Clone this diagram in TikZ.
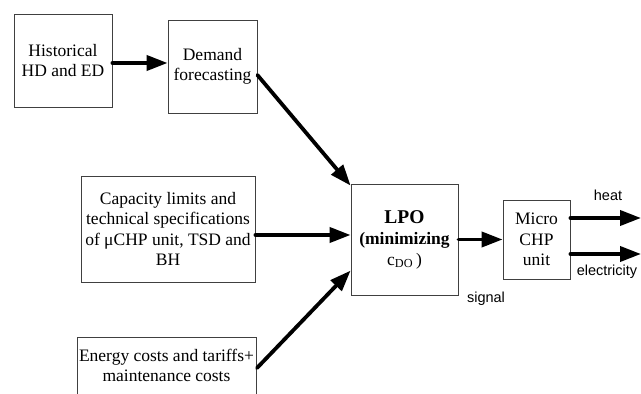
\documentclass[tikz,border=0pt]{standalone}
\usepackage{fontspec}
\setmainfont{Liberation Serif}
\newfontfamily\labelfont{Liberation Sans}
\usetikzlibrary{arrows.meta}
\begin{document}
\begin{tikzpicture}[x=1pt,y=1pt,
  boxst/.style={draw=black!75, line width=0.8pt, align=center, inner sep=0pt,
    font=\fontsize{17.5}{20.5}\selectfont},
  arr/.style={line width=3.8pt, line cap=round, -{Triangle[length=21pt,width=15pt]}},
  lbl/.style={font=\labelfont\fontsize{14.5}{17}\selectfont, inner sep=0pt}]
\useasboundingbox (0,0) rectangle (641,394);
\node[boxst, minimum width=98, minimum height=93] (hist) at (63,333.5) {Historical\\HD and ED};
\node[boxst, minimum width=89, minimum height=93] (dem) at (212.5,327.5) {Demand\\forecasting};
\node[boxst, minimum width=174, minimum height=106] (cap) at (168,165) {Capacity limits and\\technical specifications\\of μCHP unit, TSD and\\BH};
\node[boxst, minimum width=107, minimum height=111] (lpo) at (404.5,154.5)
  {{\fontsize{19.5}{22}\selectfont\bfseries LPO}\\[1pt]{\bfseries (minimizing}\\c\textsubscript{DO}\,)};
\node[boxst, minimum width=67, minimum height=79] (micro) at (536.5,154.5) {Micro\\CHP\\unit};
\node[boxst, draw=none] (energy) at (166.5,28.5) {Energy costs and tariffs+\\maintenance costs};
\draw[draw=black!75, line width=0.8pt] (77,0) -- (77,57) -- (256,57) -- (256,0);
\coordinate (enout) at (257,26);
\coordinate (heatend) at (641,176);
\coordinate (elecend) at (641,140);
% arrows
\draw[arr] ([yshift=-2.5pt]hist.east) -- ([yshift=-2.5pt]hist.east -| dem.west);
\draw[arr] ([yshift=-8.5pt]dem.east) -- ([yshift=-2pt]lpo.north west);
\draw[arr] ([yshift=-6pt]cap.east) -- ([yshift=-6pt]cap.east -| lpo.west);
\draw[arr] (enout) -- ([yshift=-87pt]lpo.north west);
\draw[arr] (lpo.east) -- (micro.west);
\draw[arr] ([yshift=21.5pt]micro.east) -- (heatend);
\draw[arr] ([yshift=-14.5pt]micro.east) -- (elecend);
% labels
\node[lbl] (heat) at (608,199) {heat};
\node[lbl] (elec) at (607,122) {electricity};
\node[lbl] (sig) at (486,95) {signal};
\end{tikzpicture}
\end{document}
